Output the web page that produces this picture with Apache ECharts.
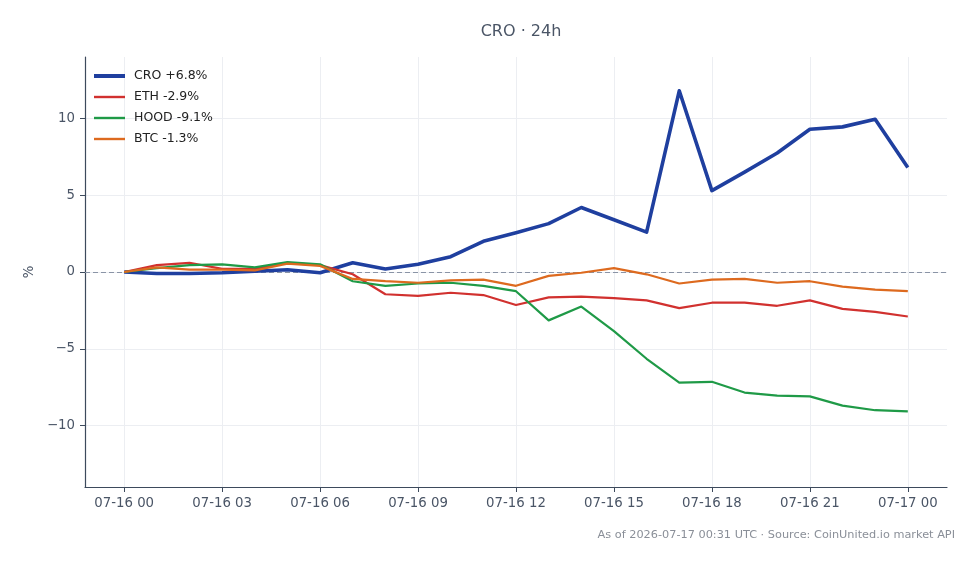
<!DOCTYPE html>
<html>
<head>
<meta charset="utf-8">
<script src="https://cdn.jsdelivr.net/npm/echarts@6/dist/echarts.min.js"></script>
<style>
  html, body { margin: 0; padding: 0; background: #fff; }
  #chart { width: 979px; height: 564px; }
</style>
</head>
<body>
<div id="chart"></div>
<script>
// hourly points, 07-16 00 .. 07-17 00
var times = [
  '07-16 00','07-16 01','07-16 02','07-16 03','07-16 04','07-16 05','07-16 06',
  '07-16 07','07-16 08','07-16 09','07-16 10','07-16 11','07-16 12','07-16 13',
  '07-16 14','07-16 15','07-16 16','07-16 17','07-16 18','07-16 19','07-16 20',
  '07-16 21','07-16 22','07-16 23','07-17 00'
];
var xTicks = [0, 3, 6, 9, 12, 15, 18, 21, 24];
var yTicks = [-10, -5, 0, 5, 10];

var cro  = [0, -0.1, -0.1, -0.05, 0.05, 0.15, -0.05, 0.6, 0.2, 0.5, 1.0, 2.0, 2.55, 3.15, 4.2, 3.4, 2.6, 11.8, 5.3, 6.5, 7.75, 9.3, 9.45, 9.95, 6.8];
var eth  = [0, 0.45, 0.6, 0.2, 0.2, 0.6, 0.45, -0.15, -1.45, -1.55, -1.35, -1.5, -2.15, -1.65, -1.6, -1.7, -1.85, -2.35, -2.0, -2.0, -2.2, -1.85, -2.4, -2.6, -2.9];
var hood = [0, 0.25, 0.45, 0.5, 0.3, 0.65, 0.5, -0.6, -0.9, -0.75, -0.7, -0.9, -1.25, -3.15, -2.25, -3.85, -5.65, -7.2, -7.15, -7.85, -8.05, -8.1, -8.7, -9.0, -9.07];
var btc  = [0, 0.3, 0.15, 0.15, 0.1, 0.55, 0.4, -0.45, -0.6, -0.7, -0.55, -0.5, -0.9, -0.25, -0.05, 0.25, -0.15, -0.75, -0.5, -0.45, -0.7, -0.6, -0.95, -1.15, -1.25];

var names = ['CRO +6.8%', 'ETH -2.9%', 'HOOD -9.1%', 'BTC -1.3%'];
var colors = ['#1f3f9f', '#d1312f', '#1f9a47', '#dd6a1f'];
var widths = [3.6, 2.2, 2.2, 2.2];
var values = [cro, eth, hood, btc];

var font = 'DejaVu Sans';
var textCol = '#4a5566';

function pairs(arr) {
  return arr.map(function (v, i) { return [i, v]; });
}

var series = values.map(function (arr, k) {
  var s = {
    name: names[k],
    type: 'line',
    data: pairs(arr),
    showSymbol: false,
    symbol: 'none',
    color: colors[k],
    lineStyle: { width: widths[k], color: colors[k], join: 'round' },
    z: 3 + k,
    animation: false
  };
  if (k === 0) {
    s.markLine = {
      silent: true,
      symbol: 'none',
      label: { show: false },
      lineStyle: { type: [5, 3], color: '#8a94a6', width: 1 },
      data: [{ yAxis: 0 }],
      z: 2
    };
  }
  return s;
});

var chart = echarts.init(document.getElementById('chart'), null, { renderer: 'canvas' });
chart.setOption({
  backgroundColor: '#ffffff',
  animation: false,
  textStyle: { fontFamily: font },
  title: [{
    text: 'CRO · 24h',
    left: 516,
    top: 19,
    textAlign: 'center',
    textStyle: { fontFamily: font, fontSize: 16, fontWeight: 'normal', color: textCol }
  }, {
    text: 'As of 2026-07-17 00:31 UTC · Source: CoinUnited.io market API',
    right: 19,
    top: 525,
    textStyle: { fontFamily: font, fontSize: 11.3, fontWeight: 'normal', color: '#8a8f98' }
  }],
  legend: {
    left: 89,
    top: 64.5,
    orient: 'vertical',
    itemWidth: 31,
    itemHeight: 14,
    itemGap: 8,
    textStyle: { fontFamily: font, fontSize: 12.5, color: '#222', padding: [0, 0, 0, 4] },
    data: names.map(function (n, k) {
      return { name: n, icon: k === 0 ? 'path://M0,0H31V4H0Z' : 'path://M0,0H31V2.4H0Z' };
    })
  },
  grid: { left: 85, right: 32, top: 57, bottom: 77, containLabel: false },
  xAxis: {
    type: 'value',
    min: -1.2,
    max: 25.2,
    axisLine: { show: true, onZero: false, lineStyle: { color: '#3d4a5c', width: 1.2 } },
    axisTick: { show: true, length: 5, lineStyle: { color: '#3d4a5c' }, customValues: xTicks },
    axisLabel: {
      customValues: xTicks,
      fontFamily: font, fontSize: 13.3, color: textCol, margin: 10,
      formatter: function (v) { return times[Math.round(v)] || ''; }
    },
    splitLine: { show: true, lineStyle: { color: '#eceef2', width: 1 } }
  },
  yAxis: {
    type: 'value',
    min: -14,
    max: 14,
    name: '%',
    nameLocation: 'middle',
    nameGap: 49,
    nameRotate: 90,
    nameTextStyle: { fontFamily: font, fontSize: 13.3, color: textCol },
    axisLine: { show: true, onZero: false, lineStyle: { color: '#3d4a5c', width: 1.2 } },
    axisTick: { show: true, length: 5, lineStyle: { color: '#3d4a5c' }, customValues: yTicks },
    axisLabel: {
      customValues: yTicks,
      fontFamily: font, fontSize: 13.3, color: textCol, margin: 10,
      formatter: function (v) { return String(v).replace('-', '\u2212'); }
    },
    splitLine: { show: true, lineStyle: { color: '#eceef2', width: 1 } }
  },
  series: series
});
</script>
</body>
</html>
